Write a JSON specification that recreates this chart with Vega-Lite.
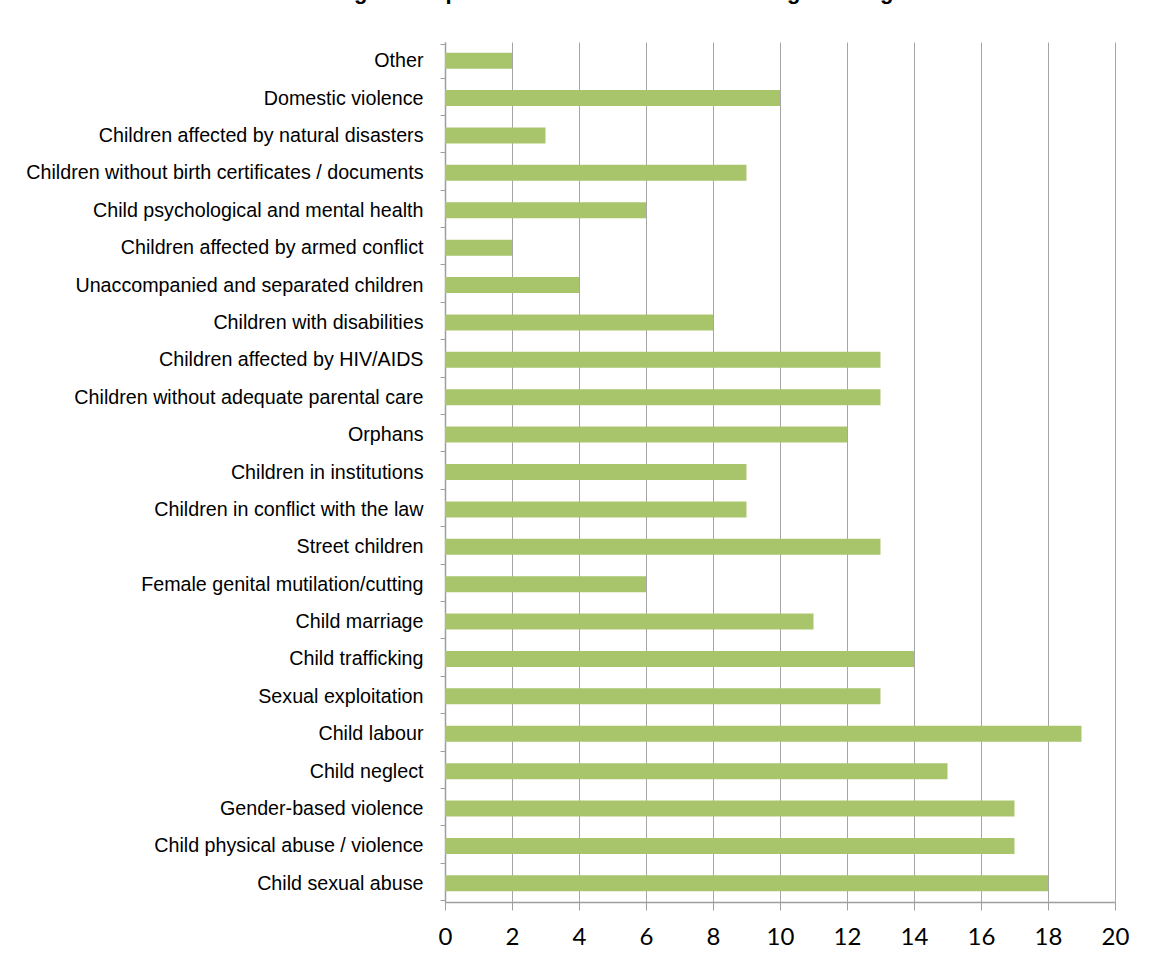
{
  "$schema": "https://vega.github.io/schema/vega-lite/v6.json",
  "autosize": {"type": "none"},
  "width": 670,
  "height": 860,
  "padding": {"left": 445, "top": 42, "right": 41, "bottom": 60},
  "background": "white",
  "title": {
    "text": "Target Groups in CSOs' Child Protection Programming",
    "font": "Liberation Sans",
    "fontSize": 22,
    "fontWeight": "bold",
    "color": "black",
    "anchor": "middle",
    "frame": "bounds",
    "offset": 28,
    "dx": 30
  },
  "data": {
    "values": [
      {"group": "Other ", "count": 2},
      {"group": "Domestic violence", "count": 10},
      {"group": "Children affected by natural disasters", "count": 3},
      {"group": "Children without birth certificates / documents", "count": 9},
      {"group": "Child psychological and mental health", "count": 6},
      {"group": "Children affected by armed conflict", "count": 2},
      {"group": "Unaccompanied and separated children", "count": 4},
      {"group": "Children with disabilities", "count": 8},
      {"group": "Children affected by HIV/AIDS", "count": 13},
      {"group": "Children without adequate parental care", "count": 13},
      {"group": "Orphans", "count": 12},
      {"group": "Children in institutions", "count": 9},
      {"group": "Children in conflict with the law", "count": 9},
      {"group": "Street children", "count": 13},
      {"group": "Female genital mutilation/cutting", "count": 6},
      {"group": "Child marriage", "count": 11},
      {"group": "Child trafficking", "count": 14},
      {"group": "Sexual exploitation", "count": 13},
      {"group": "Child labour", "count": 19},
      {"group": "Child neglect", "count": 15},
      {"group": "Gender-based violence", "count": 17},
      {"group": "Child physical abuse / violence", "count": 17},
      {"group": "Child sexual abuse", "count": 18}
    ]
  },
  "mark": {"type": "bar", "color": "#A9C56C", "size": 16},
  "encoding": {
    "y": {
      "field": "group",
      "type": "nominal",
      "sort": null,
      "title": null,
      "axis": {
        "domainColor": "#9E9E9E",
        "domainWidth": 1.5,
        "tickColor": "#9E9E9E",
        "tickSize": 5,
        "tickBand": "extent",
        "labelPadding": 17,
        "labelFont": "Liberation Sans",
        "labelFontSize": 19.7,
        "labelColor": "black",
        "labelLimit": 500,
        "grid": false
      }
    },
    "x": {
      "field": "count",
      "type": "quantitative",
      "scale": {"domain": [0, 20]},
      "title": null,
      "axis": {
        "values": [0, 2, 4, 6, 8, 10, 12, 14, 16, 18, 20],
        "domainColor": "#9E9E9E",
        "domainWidth": 1.5,
        "tickColor": "#9E9E9E",
        "tickSize": 8,
        "labelPadding": 15,
        "labelFont": "Lato",
        "labelFontSize": 24,
        "labelColor": "black",
        "labelFlush": false,
        "grid": true,
        "gridColor": "#A6A6A6",
        "gridWidth": 1
      }
    }
  },
  "config": {
    "view": {"stroke": null}
  }
}
